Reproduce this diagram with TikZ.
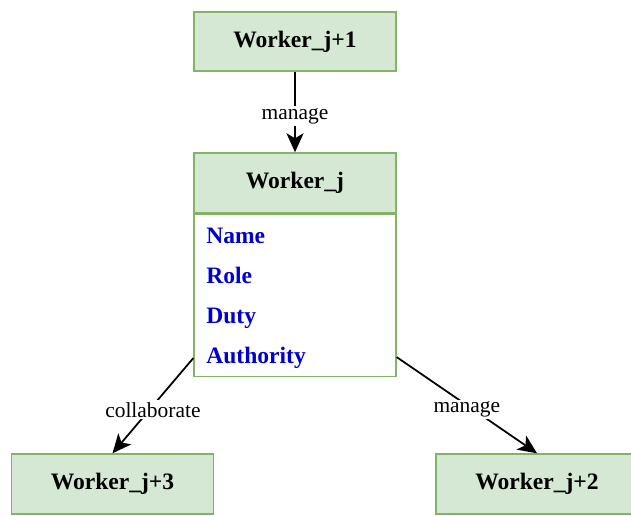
\documentclass[tikz,border=0pt]{standalone}
\usepackage{fontspec}
\setmainfont{Liberation Serif}
\usepackage{xcolor}
\usetikzlibrary{arrows.meta,calc,positioning}
\definecolor{boxfill}{RGB}{213,232,212}
\definecolor{boxline}{RGB}{130,179,102}
\definecolor{attrblue}{RGB}{0,0,204}

\begin{document}
\begin{tikzpicture}[scale=1,
	worker/.style={draw=boxline,fill=boxfill,line width=0.8pt,minimum width=4.04cm,minimum height=1.2cm,font=\fontsize{13.4}{16}\selectfont\bfseries},
	attr/.style={anchor=base west,text=attrblue,inner sep=0pt,font=\fontsize{13.4}{16}\selectfont\bfseries},
	rel/.style={line width=1pt,-{Stealth[length=3.8mm,width=3.4mm,inset=1mm]}},
	lbl/.style={fill=white,inner sep=1pt,yshift=-0.08cm,font=\fontsize{12.2}{14}\selectfont}]
	\useasboundingbox (0,0) rectangle (12.62,10.3);
	\node[worker,minimum height=1.18cm] (wj1) at (5.90,9.47) {Worker\_j+1};
	\node[worker] (wj) at (5.90,6.64) {Worker\_j};
	\node[draw=boxline,fill=white,line width=0.8pt,minimum width=4.04cm,minimum height=3.24cm,below=0pt of wj] (wjbody) {};
	\foreach \a/\y [count=\i] in {Name/5.44,Role/4.64,Duty/3.84,Authority/3.04}
		\node[attr] (attr\i) at (4.12,\y) {\a};
	\node[worker] (wj3) at (2.25,0.62) {Worker\_j+3};
	\node[worker] (wj2) at (10.74,0.62) {Worker\_j+2};
	
	\draw[rel] (wj1.south) -- node[lbl] {manage} (wj.north);
	\draw[rel] ($(wjbody.south west)+(0,0.38)$) -- node[lbl] {collaborate} (wj3.north);
	\draw[rel] ($(wjbody.south east)+(0,0.40)$) -- node[lbl] {manage} (wj2.north);
\end{tikzpicture}
\end{document}
